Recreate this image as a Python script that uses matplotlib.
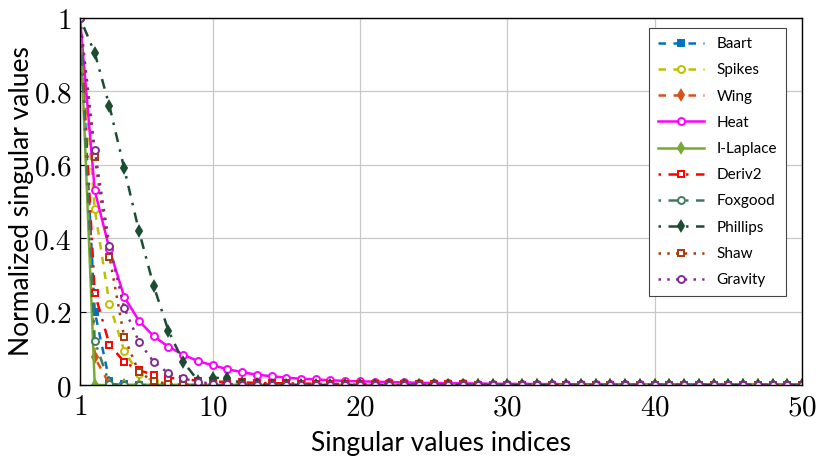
import numpy as np
import matplotlib
matplotlib.use("Agg")
import matplotlib.pyplot as plt

plt.rcParams["mathtext.fontset"] = "cm"

n = 50
idx = np.arange(1, n + 1)

def pad(vals):
    # tail of each series is (practically) zero
    return list(vals) + [0.0] * (n - len(vals))

baart = pad([1, 0.20, 0.01, 0.002])
spikes = pad([1, 0.48, 0.22, 0.093, 0.03, 0.01, 0.003])
wing = pad([1, 0.075, 0.002])
heat = pad([1, 0.53, 0.37, 0.24, 0.175, 0.133, 0.104, 0.083, 0.065, 0.054,
            0.043, 0.035, 0.028, 0.024, 0.020, 0.017, 0.015, 0.013, 0.011, 0.010,
            0.009, 0.008, 0.007, 0.006, 0.0055, 0.005, 0.0045, 0.004, 0.0035, 0.003,
            0.003, 0.0025, 0.0025, 0.002, 0.002, 0.002, 0.0015, 0.0015, 0.0015, 0.001,
            0.001, 0.001, 0.001, 0.001, 0.001, 0.001, 0.001, 0.001, 0.001, 0.001])
ilaplace = pad([1, 0.0])
deriv2 = pad([1, 0.25, 0.11, 0.063, 0.04, 0.028, 0.02, 0.016, 0.012, 0.01,
              0.008, 0.007, 0.006, 0.005, 0.0045, 0.004, 0.0035, 0.003, 0.003, 0.0025,
              0.0023, 0.002, 0.002, 0.0018, 0.0016, 0.0015, 0.0014, 0.0013, 0.0012, 0.0011,
              0.001, 0.001, 0.001, 0.001, 0.001])
foxgood = pad([1, 0.12, 0.003])
phillips = pad([1, 0.905, 0.76, 0.59, 0.42, 0.27, 0.148, 0.064, 0.012, 0.02,
                0.018, 0.005, 0.002])
shaw = pad([1, 0.62, 0.35, 0.13, 0.035, 0.01, 0.003, 0.001])
gravity = pad([1, 0.64, 0.38, 0.21, 0.118, 0.063, 0.032, 0.018, 0.008, 0.004,
               0.002, 0.001])

series = [
    ("Baart", baart, "#0072BD", (0, (3, 3)), "s", True),
    ("Spikes", spikes, "#BFBF00", (0, (3, 3)), "o", False),
    ("Wing", wing, "#D95319", (0, (3, 3)), "d", True),
    ("Heat", heat, "#FF00FF", "-", "o", False),
    ("I-Laplace", ilaplace, "#77AC30", "-", "d", True),
    ("Deriv2", deriv2, "#FF0000", (0, (1, 3, 4, 3)), "s", False),
    ("Foxgood", foxgood, "#3E7B5E", (0, (1, 3, 4, 3)), "o", False),
    ("Phillips", phillips, "#1B4D33", (0, (1, 3, 4, 3)), "d", True),
    ("Shaw", shaw, "#A83A0C", (0, (1, 2.5)), "s", False),
    ("Gravity", gravity, "#7E2F8E", (0, (1, 2.5)), "o", False),
]

fig = plt.figure(figsize=(8.16, 4.61), dpi=100)
ax = fig.add_axes([80 / 816, 1 - 385 / 461, 722 / 816, 367 / 461])

for name, vals, col, ls, mk, filled in series:
    ax.plot(idx, vals, color=col, linestyle=ls, linewidth=1.8, marker=mk,
            markersize=5, markeredgewidth=1.4,
            markerfacecolor=col if filled else "white", markeredgecolor=col,
            label=name)

ax.set_xlim(1, 50)
ax.set_ylim(0, 1)
ax.set_xticks([1, 10, 20, 30, 40, 50])
ax.set_xticklabels(["$1$", "$10$", "$20$", "$30$", "$40$", "$50$"])
ax.set_yticks([0, 0.2, 0.4, 0.6, 0.8, 1])
ax.set_yticklabels(["$0$", "$0.2$", "$0.4$", "$0.6$", "$0.8$", "$1$"])
ax.tick_params(labelsize=21, direction="in", length=4, pad=6)
ax.grid(True, color="#c8c8c8", linewidth=0.9)
ax.set_axisbelow(True)
for sp in ax.spines.values():
    sp.set_linewidth(1.0)

ax.set_xlabel("Singular values indices", fontsize=19, family="Lato")
ax.set_ylabel("Normalized singular values", fontsize=19, family="Lato")
ax.xaxis.set_label_coords(0.5, -0.125)
ax.yaxis.set_label_coords(-0.064, 0.5)

leg = ax.legend(loc="upper right", prop={"family": "Lato", "size": 11},
                fancybox=False, edgecolor="#444444", framealpha=1,
                handlelength=3.0, borderpad=0.6, labelspacing=0.8,
                borderaxespad=0, bbox_to_anchor=(0.978, 0.973))
leg.get_frame().set_linewidth(0.8)

fig.savefig("out.png", dpi=100)
